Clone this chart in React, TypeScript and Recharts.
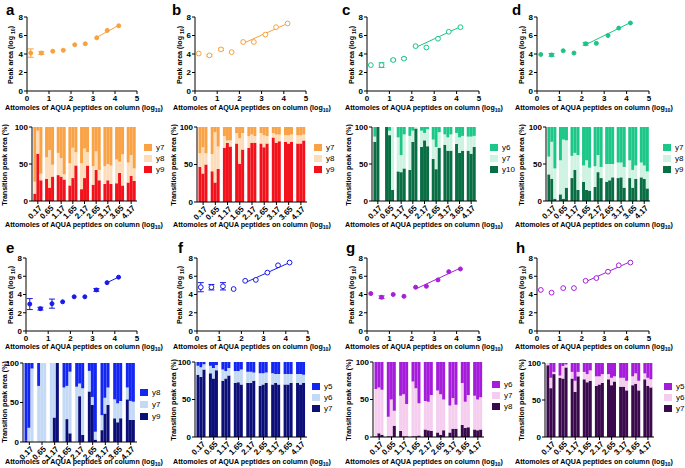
import React from 'react';
import { ComposedChart, Scatter, XAxis, YAxis, ErrorBar, BarChart, Bar } from 'recharts';

const FONT = '"Liberation Sans", Arial, sans-serif';

const amounts = [0.17, 0.65, 1.17, 1.65, 2.17, 2.65, 3.17, 3.65, 4.17];
const amountLabels = ['0.17', '0.65', '1.17', '1.65', '2.17', '2.65', '3.17', '3.65', '4.17'];
const xTicks = [0, 1, 2, 3, 4, 5];
const yTicks = [0, 2, 4, 6, 8];
const pctTicks = [0, 50, 100];

// ---- Peak area (log10) scatter values ----
const peakA = [4.1, 4.1, 4.3, 4.4, 5.0, 5.1, 5.75, 6.55, 7.05];
const errA = [0.45, 0.15, null, null, null, null, null, null, null];
const fitXA = [3.17, 4.17];
const fitYA = [5.8, 7.1];

const peakB = [4.05, 3.85, 4.5, 4.2, 5.3, 5.3, 6.1, 6.9, 7.3];
const errB = [null, 0.1, 0.12, null, null, null, null, null, null];
const fitXB = [2.17, 4.17];
const fitYB = [5.15, 7.3];

const peakC = [2.8, 2.8, 3.35, 3.5, 4.85, 4.7, 5.65, 6.4, 6.9];
const errC = [null, 0.25, 0.1, 0.1, null, null, null, null, null];
const fitXC = [2.17, 4.17];
const fitYC = [4.7, 6.95];

const peakD = [3.95, 3.9, 4.35, 4.1, 5.1, 5.15, 6.0, 6.8, 7.35];
const errD = [null, 0.15, null, null, 0.15, null, null, null, null];
const fitXD = [2.17, 4.17];
const fitYD = [5.0, 7.4];

const peakE = [2.95, 2.45, 3.0, 3.2, 3.75, 3.75, 4.5, 5.3, 5.9];
const errE = [0.6, 0.15, 0.5, null, null, null, 0.15, null, null];
const fitXE = [3.65, 4.17];
const fitYE = [5.3, 5.9];

const peakF = [4.8, 4.8, 4.9, 4.6, 5.5, 5.6, 6.4, 7.2, 7.5];
const errF = [0.5, 0.3, 0.4, null, null, null, null, null, null];
const fitXF = [2.17, 4.17];
const fitYF = [5.3, 7.5];

const peakG = [4.1, 3.7, 4.0, 3.8, 4.8, 4.9, 5.6, 6.5, 6.8];
const errG = [null, 0.15, null, null, null, null, null, null, null];
const fitXG = [2.17, 4.17];
const fitYG = [4.6, 6.9];

const peakH = [4.5, 4.2, 4.7, 4.7, 5.5, 5.8, 6.5, 7.2, 7.5];
const errH = [null, null, null, null, null, null, null, null, null];
const fitXH = [2.17, 4.17];
const fitYH = [5.4, 7.6];

// ---- Transition peak area (%) : lower segment and upper boundary of middle segment ----
const lowA = [10, 64, 28, 30, 18, 33, 35, 33, 29, 21, 31, 48, 16, 31, 48, 22, 42, 28, 23, 28, 23, 24, 38, 21, 25, 34, 27];
const upA = [26, 95, 37, 59, 69, 49, 65, 58, 36, 51, 72, 66, 51, 71, 66, 47, 67, 42, 47, 50, 48, 56, 53, 63, 52, 62, 44];

const lowB = [47, 38, 50, 41, 26, 44, 72, 79, 74, 78, 51, 70, 72, 79, 79, 78, 73, 78, 86, 79, 81, 80, 78, 80, 78, 78, 82];
const upB = [65, 73, 65, 64, 93, 74, 88, 82, 82, 92, 85, 92, 88, 90, 88, 92, 89, 88, 92, 90, 90, 89, 89, 90, 89, 89, 90];

const lowC = [80, 100, null, 100, 89, 15, 40, 39, 44, 42, 80, 98, 73, 82, 74, 57, 43, 72, 76, 68, 68, 77, 65, 68, 68, 64, 73];
const upC = [87, 100, null, 100, 95, 100, 86, 62, 90, 88, 95, 100, 95, 92, 97, 83, 73, 93, 90, 86, 90, 92, 86, 88, 87, 87, 88];

const lowD = [36, 30, 3, 9, 3, 18, 31, 42, 15, 26, 15, 14, 19, 39, 31, 26, 28, 32, 31, 32, 18, 31, 18, 30, 32, 30, 17];
const upD = [60, 80, 44, 55, 83, 82, 61, 65, 62, 48, 55, 45, 47, 62, 46, 50, 50, 50, 52, 52, 46, 55, 42, 48, 52, 48, 40];

const lowE = [2, 0, 0, 0, 0, 0, 0, 31, 100, 0, 29, 11, 0, 58, 9, 64, 47, 3, 15, 36, 47, 30, 25, 30, 54, 28, 28];
const upE = [2, 18, 93, 71, 100, 100, 100, 100, 100, 69, 71, 89, 70, 74, 68, 90, 57, 13, 34, 56, 69, 54, 49, 52, 69, 52, 51];

const lowF = [83, 80, 90, 85, 78, 89, 75, 78, 82, 72, 73, 70, 72, 72, 75, 68, 70, 72, 70, 72, 70, 70, 70, 72, 72, 70, 72];
const upF = [95, 93, 97, 95, 92, 96, 90, 88, 92, 88, 88, 90, 87, 87, 86, 85, 85, 86, 85, 84, 84, 84, 84, 84, 84, 84, 83];

const lowG = [1, 5, 3, 1, 1, 15, 8, 1, 1, 1, 1, 2, 10, 9, 8, 6, 3, 9, 6, 11, 11, 16, 12, 13, 10, 9, 10];
const upG = [64, 66, 63, 27, 50, 35, 55, 57, 44, 74, 65, 45, 48, 47, 56, 62, 57, 50, 42, 52, 43, 72, 47, 56, 55, 50, 53];

const lowH = [97, 66, 85, 80, 79, 94, 79, 61, 82, 78, 74, 76, 69, 71, 73, 78, 70, 75, 68, 68, 63, 70, 72, 63, 78, 69, 67];
const upH = [100, 80, 88, 83, 96, 98, 88, 76, 88, 88, 85, 90, 82, 82, 85, 85, 80, 82, 80, 80, 76, 82, 86, 76, 86, 80, 78];

// ---- colours ----
const ORANGE = '#F7A23E';
const GREEN = '#1DC486';
const BLUE = '#1A1AE8';
const PURPLE = '#A520D8';

const tickStyle = { fontSize: 8, fill: '#000', fontWeight: 700, fontFamily: FONT };
const axisStyle = { stroke: '#000', strokeWidth: 1 };

type SP = {
  left: number; top: number; w: number; h: number;
  peaks: number[]; errs: (number | null)[]; fitX: number[]; fitY: number[];
  color: string; filled: boolean;
};

function ScatterPanel(p: SP) {
  const YW = 30, MT = 6, XH = 14, MR = 6;
  const data = amounts.map((a, i) => ({ x: a, y: p.peaks[i], e: p.errs[i] }));
  const fit = p.fitX.map((a, i) => ({ x: a, y: p.fitY[i] }));
  return (
    <div style={{ position: 'absolute', left: p.left - YW, top: p.top - MT }}>
      <ComposedChart width={YW + p.w + MR} height={MT + p.h + XH} margin={{ top: MT, right: MR, bottom: 0, left: 0 }}>
        <XAxis type="number" dataKey="x" domain={[0, 5]} ticks={xTicks} interval={0} height={XH}
          tick={tickStyle} tickSize={3} tickMargin={1} axisLine={axisStyle} tickLine={axisStyle} />
        <YAxis type="number" dataKey="y" domain={[0, 8]} ticks={yTicks} interval={0} width={YW}
          tick={tickStyle} tickSize={3} tickMargin={1} axisLine={axisStyle} tickLine={axisStyle} />
        <Scatter data={fit} line={{ stroke: p.color, strokeWidth: 1 }} shape={() => <g />} isAnimationActive={false} />
        <Scatter data={data} isAnimationActive={false}
          shape={(s: any) => (
            <circle cx={s.cx} cy={s.cy} r={p.filled ? 2 : 2.4} fill={p.filled ? p.color : '#fff'} stroke={p.color} strokeWidth={1} />
          )}>
          <ErrorBar dataKey="e" direction="y" width={3} stroke={p.color} strokeWidth={1} />
        </Scatter>
      </ComposedChart>
    </div>
  );
}

const RotTick = (props: any) => {
  const { x, y, payload } = props;
  return (
    <g transform={`translate(${x + 1},${y - 1})`}>
      <text transform="rotate(-45)" textAnchor="end" dy={5} style={tickStyle as any} fill="#000">
        {payload.value}
      </text>
    </g>
  );
};

type BP = {
  left: number; top: number; w: number; h: number;
  low: (number | null)[]; up: (number | null)[];
  colors: string[]; // [low, mid, top]
};

function BarPanel(p: BP) {
  const YW = 30, MT = 6, XH = 30;
  const rows = amountLabels.map((lab, g) => {
    const row: any = { cat: lab };
    for (let r = 0; r < 3; r++) {
      const i = g * 3 + r;
      const lo = p.low[i];
      const up = p.up[i];
      if (lo == null || up == null) {
        row['l' + r] = 0; row['m' + r] = 0; row['t' + r] = 0;
      } else {
        row['l' + r] = lo; row['m' + r] = up - lo; row['t' + r] = 100 - up;
      }
    }
    return row;
  });
  const bars: any[] = [];
  for (let r = 0; r < 3; r++) {
    bars.push(<Bar key={'l' + r} dataKey={'l' + r} stackId={'s' + r} fill={p.colors[0]} isAnimationActive={false} />);
    bars.push(<Bar key={'m' + r} dataKey={'m' + r} stackId={'s' + r} fill={p.colors[1]} isAnimationActive={false} />);
    bars.push(<Bar key={'t' + r} dataKey={'t' + r} stackId={'s' + r} fill={p.colors[2]} isAnimationActive={false} />);
  }
  return (
    <div style={{ position: 'absolute', left: p.left - YW, top: p.top - MT }}>
      <BarChart width={YW + p.w + 2} height={MT + p.h + XH} data={rows} margin={{ top: MT, right: 2, bottom: 0, left: 0 }}
        barCategoryGap="12%" barGap={0}>
        <XAxis dataKey="cat" interval={0} height={XH} tick={<RotTick />} tickSize={3} axisLine={axisStyle} tickLine={axisStyle} />
        <YAxis type="number" domain={[0, 100]} ticks={pctTicks} interval={0} width={YW}
          tick={tickStyle} tickSize={3} tickMargin={1} axisLine={axisStyle} tickLine={axisStyle} />
        {bars}
      </BarChart>
    </div>
  );
}

const textBase: React.CSSProperties = {
  position: 'absolute', fontFamily: FONT, fontWeight: 700, fontSize: 7.1, color: '#000', whiteSpace: 'nowrap', lineHeight: 1,
};

function XTitle({ cx, y }: { cx: number; y: number }) {
  return (
    <div style={{ ...textBase, left: cx, top: y, transform: 'translate(-50%, -50%)' }}>
      Attomoles of AQUA peptides on column (log<sub style={{ fontSize: 5.2 }}>10</sub>)
    </div>
  );
}

function YTitle({ cx, cy, kind }: { cx: number; cy: number; kind: 'peak' | 'pct' }) {
  return (
    <div style={{ ...textBase, left: cx, top: cy, transform: 'translate(-50%, -50%) rotate(-90deg)' }}>
      {kind === 'peak' ? (
        <span>Peak area (log <sub style={{ fontSize: 5.2 }}>10</sub>)</span>
      ) : (
        <span>Transition peak area (%)</span>
      )}
    </div>
  );
}

function Letter({ x, y, ch }: { x: number; y: number; ch: string }) {
  return <div style={{ ...textBase, left: x, top: y, fontSize: 15 }}>{ch}</div>;
}

function Legend({ x, y, labels, colors, gap }: { x: number; y: number; labels: string[]; colors: string[]; gap: number }) {
  return (
    <div style={{ position: 'absolute', left: x, top: y }}>
      {labels.map((l, i) => (
        <div key={l} style={{ position: 'absolute', left: 0, top: i * gap, width: 30, height: 9 }}>
          <div style={{ position: 'absolute', left: 0, top: 0, width: 8, height: 7, background: colors[i] }} />
          <div style={{ ...textBase, fontWeight: 400, fontSize: 8, left: 12, top: 0 }}>{l}</div>
        </div>
      ))}
    </div>
  );
}

const cA = ['#F2121B', '#FDDDB9', '#F9A346'];
const cC = ['#0A6E45', '#CFF3E2', '#1CC787'];
const cE = ['#0D0F78', '#C3D9F5', '#1426F2'];
const cG = ['#3B0A4D', '#F5CDEF', '#A51CDB'];

export default function App() {
  return (
    <div style={{ position: 'absolute', left: 0, top: 0, width: 685, height: 468, background: '#fff', overflow: 'hidden' }}>
      {/* top scatter row */}
      <ScatterPanel left={27} top={17} w={110} h={74} peaks={peakA} errs={errA} fitX={fitXA} fitY={fitYA} color={ORANGE} filled />
      <ScatterPanel left={195} top={17} w={111} h={74} peaks={peakB} errs={errB} fitX={fitXB} fitY={fitYB} color={ORANGE} filled={false} />
      <ScatterPanel left={367} top={17} w={112} h={74} peaks={peakC} errs={errC} fitX={fitXC} fitY={fitYC} color={GREEN} filled={false} />
      <ScatterPanel left={537} top={17} w={112} h={74} peaks={peakD} errs={errD} fitX={fitXD} fitY={fitYD} color={GREEN} filled />

      {/* top bar row */}
      <BarPanel left={32} top={127} w={105} h={74} low={lowA} up={upA} colors={cA} />
      <BarPanel left={197} top={127} w={110} h={75} low={lowB} up={upB} colors={cA} />
      <BarPanel left={372} top={127} w={105} h={74} low={lowC} up={upC} colors={cC} />
      <BarPanel left={546} top={127} w={104} h={74} low={lowD} up={upD} colors={cC} />

      {/* bottom scatter row */}
      <ScatterPanel left={26} top={258} w={111} h={73} peaks={peakE} errs={errE} fitX={fitXE} fitY={fitYE} color={BLUE} filled />
      <ScatterPanel left={197} top={258} w={111} h={73} peaks={peakF} errs={errF} fitX={fitXF} fitY={fitYF} color={BLUE} filled={false} />
      <ScatterPanel left={367} top={258} w={112} h={73} peaks={peakG} errs={errG} fitX={fitXG} fitY={fitYG} color={PURPLE} filled />
      <ScatterPanel left={537} top={258} w={112} h={73} peaks={peakH} errs={errH} fitX={fitXH} fitY={fitYH} color={PURPLE} filled={false} />

      {/* bottom bar row */}
      <BarPanel left={23} top={363} w={114} h={79} low={lowE} up={upE} colors={cE} />
      <BarPanel left={195} top={362} w={112} h={75} low={lowF} up={upF} colors={cE} />
      <BarPanel left={373} top={362} w={111} h={75} low={lowG} up={upG} colors={cG} />
      <BarPanel left={545} top={363} w={109} h={74} low={lowH} up={upH} colors={cG} />

      {/* letters */}
      <Letter x={6} y={2} ch="a" />
      <Letter x={172} y={2} ch="b" />
      <Letter x={342} y={2} ch="c" />
      <Letter x={512} y={2} ch="d" />
      <Letter x={6} y={240} ch="e" />
      <Letter x={178} y={240} ch="f" />
      <Letter x={346} y={240} ch="g" />
      <Letter x={516} y={240} ch="h" />

      {/* x titles */}
      <XTitle cx={84} y={109} />
      <XTitle cx={252} y={109} />
      <XTitle cx={424} y={109} />
      <XTitle cx={594} y={109} />
      <XTitle cx={84} y={226} />
      <XTitle cx={252} y={226} />
      <XTitle cx={424} y={226} />
      <XTitle cx={594} y={226} />
      <XTitle cx={84} y={348} />
      <XTitle cx={252} y={348} />
      <XTitle cx={424} y={348} />
      <XTitle cx={594} y={348} />
      <XTitle cx={84} y={463} />
      <XTitle cx={252} y={463} />
      <XTitle cx={424} y={463} />
      <XTitle cx={594} y={463} />

      {/* y titles */}
      <YTitle cx={12} cy={55} kind="peak" />
      <YTitle cx={181} cy={55} kind="peak" />
      <YTitle cx={353} cy={55} kind="peak" />
      <YTitle cx={523} cy={55} kind="peak" />
      <YTitle cx={6} cy={165} kind="pct" />
      <YTitle cx={175} cy={165} kind="pct" />
      <YTitle cx={350} cy={165} kind="pct" />
      <YTitle cx={523} cy={165} kind="pct" />
      <YTitle cx={12} cy={295} kind="peak" />
      <YTitle cx={181} cy={295} kind="peak" />
      <YTitle cx={353} cy={295} kind="peak" />
      <YTitle cx={523} cy={295} kind="peak" />
      <YTitle cx={6} cy={402} kind="pct" />
      <YTitle cx={175} cy={400} kind="pct" />
      <YTitle cx={350} cy={400} kind="pct" />
      <YTitle cx={523} cy={400} kind="pct" />

      {/* legends */}
      <Legend x={144} y={144} gap={11} labels={['y7', 'y8', 'y9']} colors={[cA[2], cA[1], cA[0]]} />
      <Legend x={314} y={144} gap={11} labels={['y7', 'y8', 'y9']} colors={[cA[2], cA[1], cA[0]]} />
      <Legend x={490} y={144} gap={11} labels={['y6', 'y7', 'y10']} colors={[cC[2], cC[1], cC[0]]} />
      <Legend x={663} y={144} gap={11} labels={['y7', 'y8', 'y9']} colors={[cC[2], cC[1], cC[0]]} />
      <Legend x={140} y={389} gap={12} labels={['y8', 'y7', 'y9']} colors={[cE[2], cE[1], cE[0]]} />
      <Legend x={312} y={383} gap={11} labels={['y5', 'y6', 'y7']} colors={[cE[2], cE[1], cE[0]]} />
      <Legend x={492} y={381} gap={11} labels={['y6', 'y7', 'y8']} colors={[cG[2], cG[1], cG[0]]} />
      <Legend x={664} y={383} gap={11} labels={['y5', 'y6', 'y7']} colors={[cG[2], cG[1], cG[0]]} />
    </div>
  );
}
